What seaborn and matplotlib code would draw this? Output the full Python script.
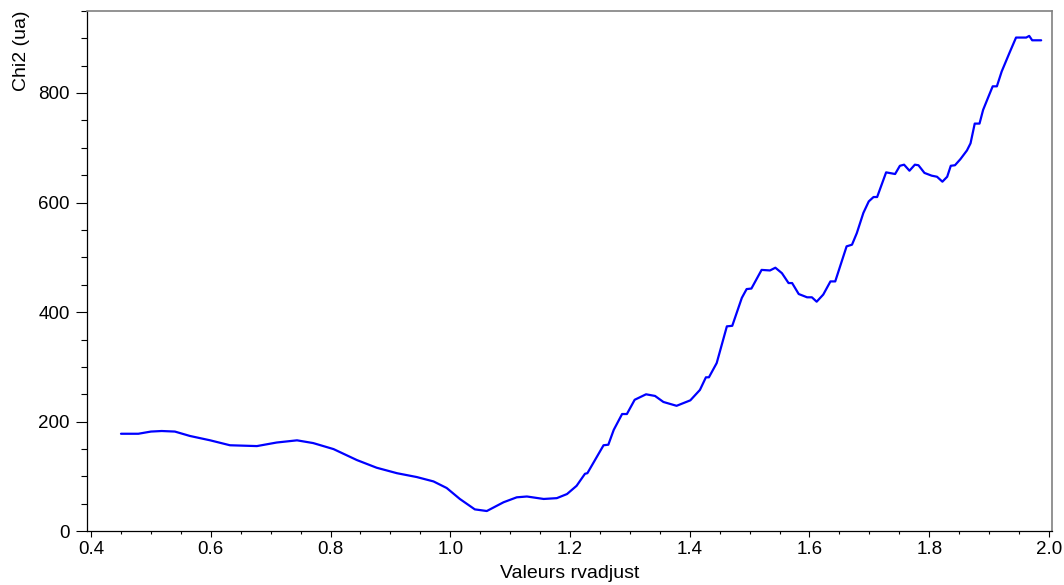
import numpy as np
import pandas as pd
import matplotlib
matplotlib.use("Agg")
import matplotlib.pyplot as plt
import seaborn as sns
from matplotlib.ticker import MultipleLocator

# values
rvadjust = [0.450, 0.479, 0.500, 0.518, 0.540, 0.565, 0.599, 0.632, 0.677, 0.710,
            0.744, 0.771, 0.805, 0.844, 0.877, 0.911, 0.944, 0.972, 0.994, 1.016,
            1.041, 1.061, 1.089, 1.111, 1.128, 1.156, 1.178, 1.195, 1.211, 1.225,
            1.229, 1.256, 1.264, 1.273, 1.287, 1.295, 1.308, 1.327, 1.342, 1.356,
            1.378, 1.401, 1.417, 1.427, 1.432, 1.445, 1.462, 1.471, 1.487, 1.495,
            1.503, 1.520, 1.534, 1.543, 1.554, 1.565, 1.571, 1.582, 1.596, 1.604,
            1.612, 1.623, 1.635, 1.643, 1.651, 1.662, 1.671, 1.679, 1.690, 1.699,
            1.707, 1.713, 1.728, 1.743, 1.751, 1.758, 1.767, 1.776, 1.782, 1.792,
            1.804, 1.813, 1.822, 1.830, 1.836, 1.843, 1.852, 1.863, 1.869, 1.876,
            1.884, 1.890, 1.900, 1.906, 1.913, 1.921, 1.934, 1.945, 1.962, 1.967,
            1.972, 1.987]
chi2 = [178, 178, 182, 183, 182, 174, 166, 157, 155.5, 162,
        166, 161, 150, 130, 116, 106, 99, 91, 79, 59,
        40, 37, 53, 62, 63.5, 59, 60.5, 68, 83, 105,
        106, 157, 158, 185, 214, 214, 240, 250, 247, 236,
        229, 239, 258, 281, 281, 307, 374, 375, 426, 442,
        443, 477, 476, 481, 471, 453, 453, 433, 427, 427,
        419, 432, 456, 456, 483, 520, 523, 544, 581, 602,
        610, 610, 655, 652, 667, 669, 658, 669, 668, 654,
        649, 647, 638, 647, 667, 668, 679, 695, 708, 744,
        744, 769, 796, 812, 812, 839, 873, 901, 901, 904,
        896, 896]

df = pd.DataFrame({"rvadjust": rvadjust, "chi2": chi2})

sns.set_style("ticks")
plt.rcParams["font.family"] = ["Liberation Sans", "DejaVu Sans"]
plt.rcParams["text.color"] = "black"
plt.rcParams["axes.labelcolor"] = "black"
plt.rcParams["xtick.color"] = "black"
plt.rcParams["ytick.color"] = "black"

fig = plt.figure(figsize=(10.64, 5.85), dpi=100)
ax = fig.add_axes([0.0821, 0.0918, 0.9063, 0.8899])

sns.lineplot(data=df, x="rvadjust", y="chi2", color="#0000ff", linewidth=1.6, ax=ax)

ax.set_xlim(0.3938, 2.0045)
ax.set_ylim(0, 950)

ax.xaxis.set_major_locator(MultipleLocator(0.2))
ax.xaxis.set_minor_locator(MultipleLocator(0.05))
ax.yaxis.set_major_locator(MultipleLocator(200))
ax.yaxis.set_minor_locator(MultipleLocator(50))
ax.xaxis.set_major_formatter(matplotlib.ticker.FormatStrFormatter("%.1f"))

ax.tick_params(axis="x", which="major", length=4.3, width=0.8, labelsize=13.5, pad=3,
               color="black", labelcolor="black")
ax.tick_params(axis="x", which="minor", length=2.2, width=0.8, color="black")
ax.tick_params(axis="y", which="major", length=7.7, width=0.8, labelsize=13.5, pad=5,
               color="black", labelcolor="black")
ax.tick_params(axis="y", which="minor", length=4.0, width=0.8, color="black")

for s in ["left", "bottom"]:
    ax.spines[s].set_color("black")
    ax.spines[s].set_linewidth(0.9)
for s in ["top", "right"]:
    ax.spines[s].set_visible(True)
    ax.spines[s].set_color("#808080")
    ax.spines[s].set_linewidth(1.2)

ax.set_xlabel("Valeurs rvadjust", fontsize=14, labelpad=5, color="black")
ax.set_ylabel("Chi2 (ua)", fontsize=14, loc="top", labelpad=6, color="black")

fig.savefig("out.png", dpi=100)
